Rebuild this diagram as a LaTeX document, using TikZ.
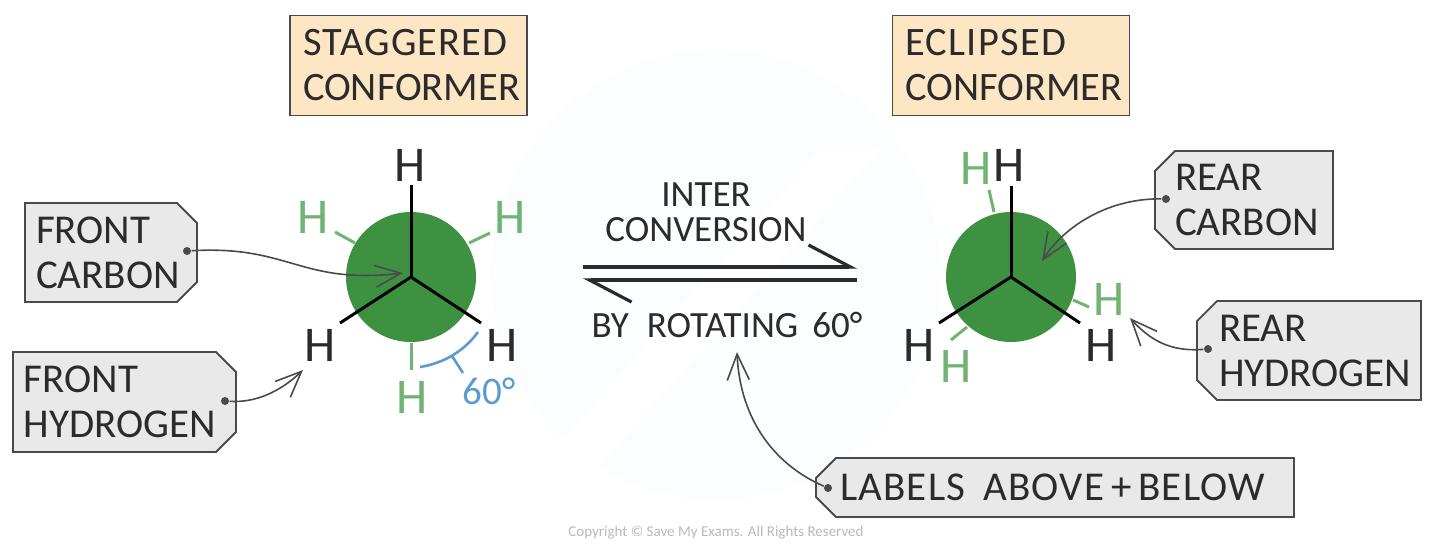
\documentclass[tikz,border=0pt]{standalone}
\usepackage{fontspec}
\setmainfont{Carlito}
\usepackage{xcolor}
\usetikzlibrary{arrows.meta,positioning,shapes.misc}

\definecolor{boxpeach}{HTML}{FCE6C4}
\definecolor{taggrey}{HTML}{E9E9E9}
\definecolor{linegrey}{HTML}{4A4A4A}
\definecolor{inkdark}{HTML}{2B2B2B}
\definecolor{discgreen}{HTML}{3F9142}
\definecolor{stubgreen}{HTML}{6FB472}
\definecolor{anglblue}{HTML}{5B9BD5}
\definecolor{markpale}{HTML}{FCFDFE}

\begin{document}
\begin{tikzpicture}[
				x = 0.5pt, y = -0.5pt, % one unit is one pixel of the image
				> = {Straight Barb[length=13pt,width=11pt]}, % open arrow head
				semithick, % line style
				text = inkdark
			]
			
			\tikzstyle{title}=[
			draw = linegrey,
			line width = 0.9pt,
			fill = boxpeach,
			inner xsep = 6.5pt,
			inner ysep = 0pt,
			minimum height = 50pt,
			text width = 105.5pt,
			align = left,
			font = \fontsize{20.2}{22.5}\selectfont
			]
			
			\tikzstyle{tag}=[
			chamfered rectangle,
			chamfered rectangle xsep = 0pt,
			chamfered rectangle ysep = 0pt,
			chamfered rectangle sep = 5pt,
			draw = linegrey,
			line width = 0.9pt,
			fill = taggrey,
			inner ysep = 0pt,
			align = left,
			font = \fontsize{20.5}{22.5}\selectfont
			]
			
			\tikzstyle{tagright}=[tag, chamfered rectangle corners = {north east, south east}]
			\tikzstyle{tagleft}=[tag, chamfered rectangle corners = {north west, south west}]
			\tikzstyle{pin}=[circle, fill = linegrey, inner sep = 0pt, minimum size = 4pt]
			\tikzstyle{disc}=[circle, fill = discgreen, inner sep = 0pt, minimum size = 65pt]
			\tikzstyle{hblack}=[text = inkdark, inner sep = 0pt, font = \fontsize{25}{25}\selectfont]
			\tikzstyle{hgreen}=[text = stubgreen, inner sep = 0pt, font = \fontsize{25}{25}\selectfont]
			\tikzstyle{bond}=[draw = black, line width = 1.5pt]
			\tikzstyle{stub}=[draw = stubgreen, line width = 1.5pt]
			\tikzstyle{pointer}=[->, draw = linegrey, line width = 0.8pt]
			\tikzstyle{eqline}=[draw = inkdark, line width = 1.6pt]
			\tikzstyle{caption}=[inner sep = 0pt, align = center, font = \fontsize{18.5}{17.5}\selectfont]
			
			\useasboundingbox (0,0) rectangle (1440,558);
			
			% faint mark behind everything
			\fill[markpale] (716,275) circle (225);
			\fill[white] (820,150) -- (880,150) -- (560,510) -- (500,510) -- cycle;
			
			% conformer titles
			\node[title] (stag) at (408.5,65.5) {{\addfontfeature{LetterSpace=3}STAGGERED}\\CONFORMER};
			\node[title] (ecl) at (1011,65.5) {{\addfontfeature{LetterSpace=3}ECLIPSED}\\CONFORMER};
			
			% staggered projection
			\node[disc] (fcar) at (411,277) {};
			\coordinate (ftop) at (411,185);
			\coordinate (fleft) at (340,323);
			\coordinate (fright) at (481,323);
			\coordinate (sul) at (335,232);
			\coordinate (sule) at (355,243);
			\coordinate (sur) at (490,233);
			\coordinate (sure) at (469,243);
			\coordinate (sdn) at (411,370);
			\draw[bond] (ftop) -- (fcar.center);
			\draw[bond] (fleft) -- (fcar.center);
			\draw[bond] (fright) -- (fcar.center);
			\draw[stub] (sul) -- (sule);
			\draw[stub] (sur) -- (sure);
			\draw[stub] (sdn) -- (fcar.south);
			
			\node[hblack] (h1) at (410,165) {H};
			\node[hblack] (h2) at (320,345) {H};
			\node[hblack] (h3) at (502,345) {H};
			\node[hgreen] (h4) at (313,217) {H};
			\node[hgreen] (h5) at (510,217) {H};
			\node[hgreen] (h6) at (412,397) {H};
			
			% 60 degree angle
			\coordinate (anga) at (420,367);
			\coordinate (angb) at (478,332);
			\coordinate (angm) at (452,356);
			\coordinate (angt) at (463,373);
			\node[text = anglblue, inner sep = 0pt, font = \fontsize{19.5}{19.5}\selectfont] (ang) at (489,391) {60°};
			\draw[draw = anglblue, line width = 1.3pt] (anga) .. controls (445,363) and (465,350) .. (angb);
			\draw[draw = anglblue, line width = 1.3pt] (angm) -- (angt);
			
			% eclipsed projection
			\node[disc] (rcar) at (1011,277) {};
			\coordinate (rtop) at (1011,186);
			\coordinate (rleft) at (939,323);
			\coordinate (rright) at (1080,323);
			\coordinate (tul) at (989,190);
			\coordinate (tule) at (994,212);
			\coordinate (tll) at (951,340);
			\coordinate (tlle) at (967,327);
			\coordinate (trr) at (1089,307);
			\coordinate (trre) at (1073,300);
			\draw[bond] (rtop) -- (rcar.center);
			\draw[bond] (rleft) -- (rcar.center);
			\draw[bond] (rright) -- (rcar.center);
			\draw[stub] (tul) -- (tule);
			\draw[stub] (tll) -- (tlle);
			\draw[stub] (trr) -- (trre);
			
			\node[hgreen] (h7) at (976,168) {H};
			\node[hblack] (h8) at (1009,165) {H};
			\node[hblack] (h9) at (919,345) {H};
			\node[hblack] (h10) at (1101,345) {H};
			\node[hgreen] (h11) at (956,366) {H};
			\node[hgreen] (h12) at (1109,299) {H};
			
			% equilibrium arrows
			\coordinate (eqa) at (583,267);
			\coordinate (eqb) at (857,267);
			\coordinate (eqc) at (857,280);
			\coordinate (eqd) at (583,280);
			\draw[eqline, -{Straight Barb[harpoon,length=21pt,width=22pt]}] (eqa) -- (eqb);
			\draw[eqline, -{Straight Barb[harpoon,length=21pt,width=22pt]}] (eqc) -- (eqd);
			\node[caption] (inter) at (706,212) {INTER\\CONVERSION};
			\node[caption] (rot) at (727,325) {BY\hspace{9pt}ROTATING\hspace{7pt}60°};
			
			% tags
			\node[tagright, text width = 75pt, inner xsep = 0.5pt, minimum height = 49.5pt] (tfc) at (111,252.5) {FRONT\\CARBON};
			\node[tagright, text width = 100.5pt, inner xsep = 0.5pt, minimum height = 50pt] (tfh) at (124.5,402) {FRONT\\HYDROGEN};
			\node[tagleft, text width = 69pt, inner xsep = 5pt, minimum height = 49pt] (trc) at (1244,200) {REAR\\CARBON};
			\node[tagleft, text width = 90pt, inner xsep = 6pt, minimum height = 49.5pt] (trh) at (1309,350.5) {REAR\\HYDROGEN};
			\node[tagleft, text width = 215pt, inner xsep = 7pt, minimum height = 29.5pt] (tlb) at (1055,487.5) {\mbox{\addfontfeature{LetterSpace=3}LABELS\hspace{9pt}ABOVE\,+\,BELOW}};
			
			% pointers
			\node[pin] (pfc) at (187,251) {};
			\node[pin] (pfh) at (225,401) {};
			\node[pin] (prc) at (1166,199) {};
			\node[pin] (prh) at (1208,349) {};
			\node[pin] (plb) at (828,488) {};
			\coordinate (efc) at (403,273);
			\coordinate (efh) at (303,370);
			\coordinate (erc) at (1042,261);
			\coordinate (erh) at (1130,318);
			\coordinate (elb) at (737,352);
			\draw[pointer] (pfc) .. controls (290,245) and (300,285) .. (efc);
			\draw[pointer] (pfh) .. controls (255,403) and (280,392) .. (efh);
			\draw[pointer] (prc) .. controls (1110,198) and (1065,225) .. (erc);
			\draw[pointer] (prh) .. controls (1170,352) and (1150,340) .. (erh);
			\draw[pointer] (plb) .. controls (775,465) and (740,420) .. (elb);
			
			\node[text = black!28, inner sep = 0pt, font = \fontsize{7.5}{8}\selectfont] (copy) at (716,533) {Copyright © Save My Exams. All Rights Reserved};
		\end{tikzpicture}
\end{document}
